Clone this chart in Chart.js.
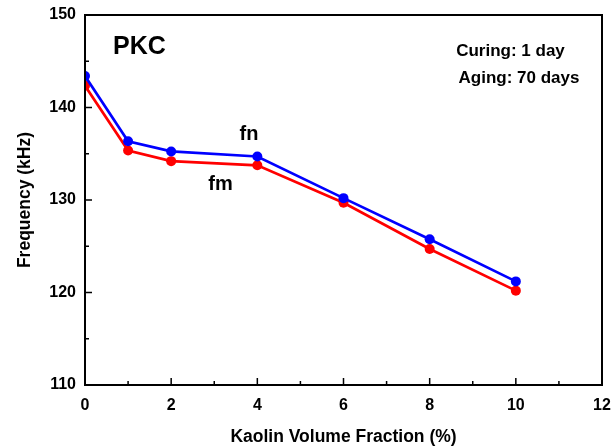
<!DOCTYPE html>
<html>
<head>
<meta charset="utf-8">
<script src="https://cdn.jsdelivr.net/npm/chart.js@4/dist/chart.umd.min.js"></script>
<style>
  html, body { margin: 0; padding: 0; background: #fff; }
  #wrap { width: 616px; height: 446px; }
</style>
</head>
<body>
<div id="wrap"><canvas id="chartFreq"></canvas></div>
<script>
'use strict';

/* ── Data: kaolin fraction (%) vs. resonant frequency (kHz) ─────── */
const kaolinFraction = [0, 1, 2, 4, 6, 8, 10];
const freqFn = [143.4, 136.35, 135.25, 134.7, 130.2, 125.75, 121.2];
const freqFm = [142.35, 135.35, 134.2, 133.75, 129.7, 124.7, 120.2];
const xTicks = [0, 2, 4, 6, 8, 10, 12];
const yTicks = [110, 120, 130, 140, 150];
const xMinorTicks = [1, 3, 5, 7, 9, 11];
const yMinorTicks = [115, 125, 135, 145];

const FONT = "'Liberation Sans', Arial, sans-serif";

const toPoints = ys => kaolinFraction.map((x, i) => ({ x, y: ys[i] }));

/* ── Frame, inward ticks and annotations ────────────────────────── */
const framePlugin = {
  id: 'frame',
  afterDraw(chart) {
    const { ctx, chartArea: a, scales: { x, y } } = chart;
    ctx.save();
    ctx.strokeStyle = '#000';
    ctx.lineWidth = 2;
    ctx.strokeRect(a.left, a.top, a.right - a.left, a.bottom - a.top);

    ctx.lineWidth = 1.5;
    ctx.beginPath();
    xTicks.forEach(v => {
      const px = x.getPixelForValue(v);
      ctx.moveTo(px, a.bottom); ctx.lineTo(px, a.bottom - 7);
    });
    xMinorTicks.forEach(v => {
      const px = x.getPixelForValue(v);
      ctx.moveTo(px, a.bottom); ctx.lineTo(px, a.bottom - 4);
    });
    yTicks.forEach(v => {
      const py = y.getPixelForValue(v);
      ctx.moveTo(a.left, py); ctx.lineTo(a.left + 7, py);
    });
    yMinorTicks.forEach(v => {
      const py = y.getPixelForValue(v);
      ctx.moveTo(a.left, py); ctx.lineTo(a.left + 4, py);
    });
    ctx.stroke();

    ctx.fillStyle = '#000';
    ctx.textAlign = 'center';
    ctx.textBaseline = 'alphabetic';
    ctx.font = `bold 25px ${FONT}`;
    ctx.fillText('PKC', 139.5, 54);
    ctx.font = `bold 17px ${FONT}`;
    ctx.fillText('Curing: 1 day', 510.5, 56);
    ctx.fillText('Aging: 70 days', 519, 83);
    ctx.font = `bold 20px ${FONT}`;
    ctx.fillText('fn', 249, 140);
    ctx.fillText('fm', 220.5, 190);
    ctx.restore();
  },
};

new Chart(document.getElementById('chartFreq'), {
  type: 'line',
  data: {
    datasets: [
      {
        label: 'fn',
        data: toPoints(freqFn),
        borderColor: '#0000ff',
        backgroundColor: '#0000ff',
        borderWidth: 2.7,
        pointRadius: 5,
        pointBorderWidth: 0,
        tension: 0,
      },
      {
        label: 'fm',
        data: toPoints(freqFm),
        borderColor: '#ff0000',
        backgroundColor: '#ff0000',
        borderWidth: 2.7,
        pointRadius: 5,
        pointBorderWidth: 0,
        tension: 0,
      },
    ],
  },
  options: {
    responsive: true,
    maintainAspectRatio: false,
    animation: false,
    layout: { padding: { top: 15, right: 14, left: 0, bottom: 0 } },
    plugins: { legend: { display: false }, tooltip: { enabled: false } },
    scales: {
      x: {
        type: 'linear',
        min: 0,
        max: 12,
        afterBuildTicks: s => { s.ticks = xTicks.map(value => ({ value })); },
        afterFit: s => { s.height = 61; s.paddingLeft = 0; s.paddingRight = 0; },
        grid: { display: false, drawTicks: false },
        border: { display: false },
        ticks: { color: '#000', padding: 11, font: { family: FONT, size: 16, weight: 'bold' } },
        title: {
          display: true,
          text: 'Kaolin Volume Fraction (%)',
          color: '#000',
          font: { family: FONT, size: 17.5, weight: 'bold' },
          padding: { top: 0, bottom: -2 },
        },
      },
      y: {
        min: 110,
        max: 150,
        afterBuildTicks: s => { s.ticks = yTicks.map(value => ({ value })); },
        afterFit: s => { s.width = 85; s.paddingTop = 0; s.paddingBottom = 0; },
        grid: { display: false, drawTicks: false },
        border: { display: false },
        ticks: { color: '#000', padding: 9, font: { family: FONT, size: 16, weight: 'bold' } },
        title: {
          display: true,
          text: 'Frequency (kHz)',
          color: '#000',
          font: { family: FONT, size: 17.5, weight: 'bold' },
          padding: { top: 15, bottom: 0 },
        },
      },
    },
  },
  plugins: [framePlugin],
});
</script>
</body>
</html>
